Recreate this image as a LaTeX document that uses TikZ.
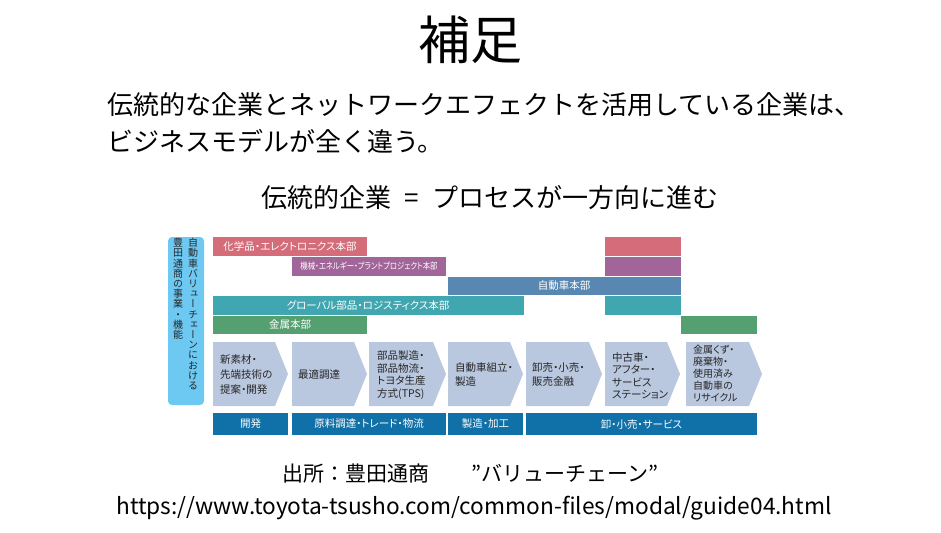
\documentclass[tikz,border=0pt]{standalone}
\usepackage{fontspec}
\setmainfont{Noto Sans CJK JP}
\newfontfamily\vfont[RawFeature=+vert]{Noto Sans CJK JP}
\newfontfamily\pfont[CharacterWidth=AlternateProportional]{Noto Sans CJK JP}
\definecolor{cpink}{HTML}{D46C79}
\definecolor{cpurple}{HTML}{A26599}
\definecolor{cblue}{HTML}{5887B2}
\definecolor{cteal}{HTML}{40A7B1}
\definecolor{cgreen}{HTML}{55A070}
\definecolor{cchev}{HTML}{B9C7DF}
\definecolor{cbot}{HTML}{1070A8}
\definecolor{cside}{HTML}{6DC8F2}
\definecolor{ctext}{HTML}{262626}
\begin{document}
\begin{tikzpicture}[x=1pt,y=-1pt,
  bartext/.style={text=white,font=\pfont\fontsize{10.5}{12}\selectfont,inner sep=0pt},
  chevtext/.style={text=ctext,anchor=west,align=left,inner sep=0pt},
  bottext/.style={text=white,font=\pfont\fontsize{10.5}{12}\selectfont,inner sep=0pt},
  sidetext/.style={anchor=north,align=center,inner sep=0pt,text=ctext,font=\vfont\fontsize{10}{10.2}\selectfont}]
\useasboundingbox (0,0) rectangle (941,532);
% titles
\node (title) at (470,40) {\fontsize{52}{58}\selectfont 補足};
\node[anchor=west,inner sep=0pt] (l1) at (107,105) {\fontsize{26}{30}\selectfont 伝統的な企業とネットワークエフェクトを活用している企業は、};
\node[anchor=west,inner sep=0pt] (l2) at (107,141) {\fontsize{26}{30}\selectfont ビジネスモデルが全く違う。};
\node[inner sep=0pt] (sub) at (490,198) {\fontsize{26}{30}\selectfont 伝統的企業\hspace{0.5em}=\hspace{0.5em}プロセスが一方向に進む};
% side box
\fill[cside,rounded corners=4pt] (168,237) rectangle (204,405);
\node[sidetext] (sideA) at (193,238) {自\\動\\車\\バ\\リ\\ュ\\ー\\チ\\ェ\\ー\\ン\\に\\お\\け\\る};
\node[sidetext] (sideB) at (178,238) {豊\\田\\通\\商\\の\\事\\業\\・\\機\\能};
% bars
\fill[cpink] (213,237) rectangle (367,256);
\fill[cpink] (605,237) rectangle (681,256);
\fill[cpurple] (292,257) rectangle (446,276);
\fill[cpurple] (605,257) rectangle (681,276);
\fill[cblue] (448,277) rectangle (681,295);
\fill[cteal] (213,296) rectangle (524,315);
\fill[cteal] (605,296) rectangle (681,315);
\fill[cgreen] (213,316) rectangle (367,334);
\fill[cgreen] (681,316) rectangle (757,334);
\node[bartext] (b1) at (290,246.5) {化学品・エレクトロニクス本部};
\node[bartext] (b2) at (369,266.5) {\scalebox{0.82}[1]{\fontsize{9}{10}\selectfont 機械・エネルギー・プラントプロジェクト本部}};
\node[bartext] (b3) at (564,286) {自動車本部};
\node[bartext] (b4) at (368,305.5) {グローバル部品・ロジスティクス本部};
\node[bartext] (b5) at (290,325) {金属本部};
% chevrons
\foreach \l/\t in {213/288,292/367,369/446,448/523,526/602,605/680,686/762}{
  \fill[cchev] (\l,342) -- ({\t-13},342) -- (\t,374) -- ({\t-13},406) -- (\l,406) -- cycle;
}
\node[chevtext,font=\pfont\fontsize{10.5}{15}\selectfont] (c1) at (220,375) {新素材・\\先端技術の\\提案・開発};
\node[chevtext,font=\pfont\fontsize{10.5}{15}\selectfont] (c2) at (298,375) {最適調達};
\node[chevtext,font=\pfont\fontsize{10.5}{12.5}\selectfont] (c3) at (377,375) {部品製造・\\部品物流・\\トヨタ生産\\方式(TPS)};
\node[chevtext,font=\pfont\fontsize{10.5}{14}\selectfont] (c4) at (455,375) {自動車組立・\\製造};
\node[chevtext,font=\pfont\fontsize{10.5}{14}\selectfont] (c5) at (532,375) {卸売・小売・\\販売金融};
\node[chevtext,font=\pfont\fontsize{10.5}{12.5}\selectfont] (c6) at (612,376) {中古車・\\アフター・\\サービス\\ステーション};
\node[chevtext,font=\pfont\fontsize{10}{12}\selectfont] (c7) at (693,374) {金属くず・\\廃棄物・\\使用済み\\自動車の\\リサイクル};
% bottom bars
\fill[cbot] (213,413) rectangle (288,435);
\fill[cbot] (292,413) rectangle (446,435);
\fill[cbot] (448,413) rectangle (523,435);
\fill[cbot] (526,413) rectangle (757,435);
\node[bottext] (d1) at (250.5,424) {開発};
\node[bottext] (d2) at (369,424) {原料調達・トレード・物流};
\node[bottext] (d3) at (485.5,424) {製造・加工};
\node[bottext] (d4) at (641.5,424) {卸・小売・サービス};
% source
\node[inner sep=0pt] (src) at (470,474) {\fontsize{21}{24}\selectfont 出所：豊田通商\hspace{2em}”バリューチェーン”};
\node[inner sep=0pt] (url) at (474,508) {\fontsize{22.7}{26}\selectfont https://www.toyota-tsusho.com/common-files/modal/guide04.html};
\end{tikzpicture}
\end{document}
